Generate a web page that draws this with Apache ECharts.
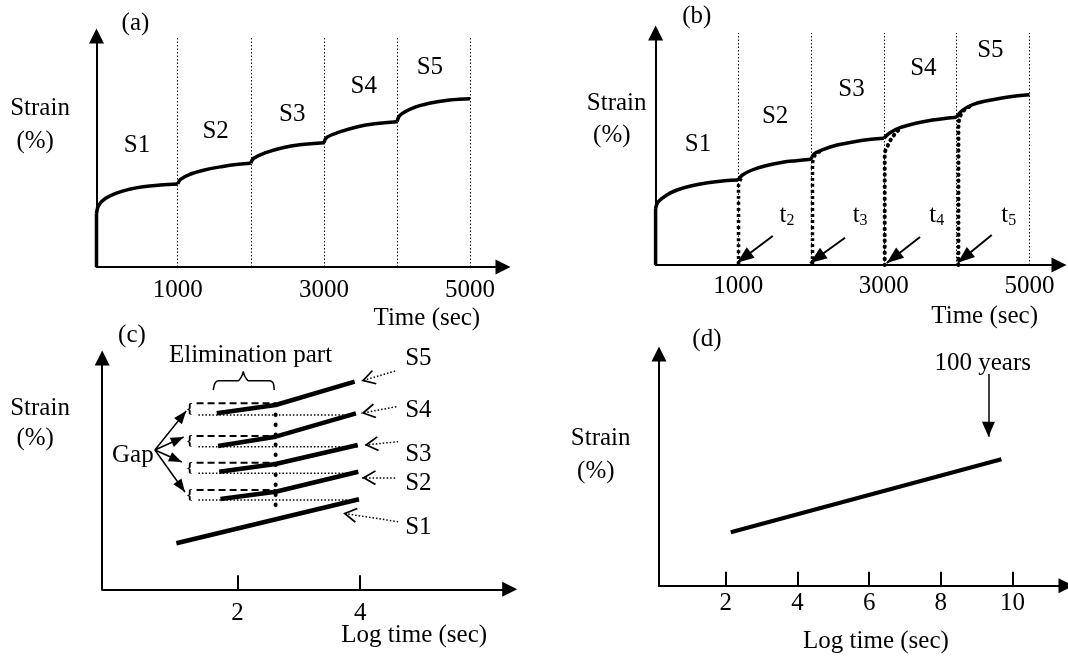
<!DOCTYPE html>
<html><head><meta charset="utf-8">
<script src="https://cdn.jsdelivr.net/npm/echarts@6/dist/echarts.min.js"></script>
<style>html,body{margin:0;padding:0;background:#fff}#c{width:1068px;height:657px}</style>
</head><body><div id="c"></div>
<script>
// ===== Panel (a): stepwise creep curve, Time (sec) vs Strain =====
const aStageTimes = [1000, 2000, 3000, 4000, 5000];
const aTickLabels = [1000, 3000, 5000];
const aJump = [[-111, 0], [-111, 53.7]];
const aS1 = [[-111,53.7],[-79,62],[14,68.7],[153,73.7],[339,77.7],[525,80.3],[759,82],[1000,83]];
const aS2 = [[1000,83],[1038,87.7],[1178,93],[1365,97],[1598,100.3],[1830,102.7],[2000,103.7]];
const aS3 = [[2000,103.7],[2040,108.7],[2204,114.3],[2436,119.3],[2669,122.3],[3000,124.3]];
const aS4 = [[3000,124.3],[3042,129.7],[3228,135.3],[3461,140.3],[3695,143.3],[4000,145.3]];
const aS5 = [[4000,145.3],[4044,152],[4207,158.7],[4440,163.7],[4720,167],[5000,168.3]];
const aStageLabels = [[442,121.3,'S1'],[1518,135.3,'S2'],[2566,152.3,'S3'],[3546,180.3,'S4'],[4449,199.3,'S5']];

// ===== Panel (b): same curve with re-zeroed stages =====
const bStageTimes = [1000, 2000, 3000, 4000, 5000];
const bTickLabels = [1000, 3000, 5000];
const bJump = [[-135, 0], [-135, 56.7]];
const bS1 = [[-135,56.7],[-97,63.3],[19,70],[159,75],[347,79],[581,82.3],[814,84.3],[1000,85]];
const bS2 = [[1000,85],[1058,90],[1190,95],[1376,99.3],[1610,102.7],[1798,104.3],[2000,105.7]];
const bS3 = [[2000,105.7],[2041,111],[2172,115.7],[2358,120],[2593,123.3],[2827,125.7],[3000,126.7]];
const bS4 = [[3000,126.7],[3084,132.3],[3224,137.3],[3435,141.7],[3669,145],[3856,146.7],[4000,147.7]];
const bS5 = [[4000,147.7],[4067,154],[4207,160],[4418,164.3],[4651,167.3],[4839,169.3],[5000,170.3]];
const bR2 = [[1004,0],[1004,79],[1020,84],[1050,87.5]];
const bR3 = [[2020,0],[2020,100],[2035,107],[2070,111],[2130,113.5]];
const bR4 = [[3012,0],[3012,112],[3040,117],[3070,122],[3110,127],[3170,132.5],[3230,137]];
const bR5 = [[4025,0],[4025,140],[4045,148],[4090,154],[4180,158.5]];
const bStageLabels = [[448,121,'S1'],[1507,148.3,'S2'],[2555,175.7,'S3'],[3543,196.7,'S4'],[4464,214.3,'S5']];
const bTLabels = [[1670,50,'2'],[2674,50,'3'],[3727,50,'4'],[4716,50,'5']];
const bTArrows = [[[1474,29],[984,2.3]],[[2467,27.3],[1986,2]],[[3497,28],[3040,2]],[[4482,30],[4015,2.3]]];

// ===== Panel (c): Log time vs Strain, shifted stages =====
const cTicks = [2, 4];
const cS1 = [[1.0,46],[3.98,90]];
const cS2 = [[1.72,90.3],[2.62,97.6],[3.97,117.6]];
const cS3 = [[1.70,117.6],[2.62,125.3],[3.96,144.3]];
const cS4 = [[1.68,143.3],[2.62,152.6],[3.93,176]];
const cS5 = [[1.66,176],[2.62,184.3],[3.91,207.6]];
const cGapTop = [186, 153.3, 126.6, 99.3];
const cGapBottom = [174.3, 142.6, 116, 89.3];
const cDashStartX = 1.33;
const cDotStartX = 1.36;
const cCutX = 2.62;
const cPrevEndX = [3.93, 3.96, 3.97, 3.98];
const cCutLine = [[2.62,84.3],[2.62,192.6]];
const cBrace = [[1.602,199.3],[1.630,206],[1.684,208.6],[2.010,208.6],[2.038,210.3],[2.076,214.3],[2.092,217.6],[2.108,214.3],[2.146,210.3],[2.173,208.6],[2.527,208.6],[2.581,206],[2.597,199.3]];
const cGapOrigin = [0.65, 139.3];
const cGapTips = [[1.16,178.3],[1.12,152.3],[1.09,127.3],[1.14,97.3]];
const cPointers = [[[4.57,218.3],[4.02,208.3]],[[4.59,182.6],[4.02,176]],[[4.62,147.6],[4.07,144.3]],[[4.57,111.6],[4.03,111.6]],[[4.62,67.6],[3.72,76]]];
const cStageLabels = [[4.95,231,'S5'],[4.95,179.3,'S4'],[4.95,135.3,'S3'],[4.95,106,'S2'],[4.95,62,'S1']];
const cSmallBraces = [[1.22,180.2,'{'],[1.22,148,'{'],[1.22,121.3,'{'],[1.22,94.3,'{']];
const cTexts = [[0.29,134.3,'Gap'],[2.21,233.8,'Elimination part']];

// ===== Panel (d): extrapolated line to 100 years =====
const dTicks = [2, 4, 6, 8, 10];
const dLine = [[2.14,53.4],[9.69,126.5]];
const dArrow = [[9.33,211.7],[9.33,149]];
const dTexts = [[9.17,222.4,'100 years']];

// ---------------- option building ----------------
const FONT = '"Liberation Serif","Times New Roman",serif';
const BLACK = '#000';
const TXT = {fontFamily: FONT, fontSize: 25, color: BLACK};

function xAxis(gi, min, max, name, nameGap, namePadTop, labelVals, tickVals, margin) {
  return {
    type: 'value', gridIndex: gi, min: min, max: max,
    axisLine: {onZero: false, lineStyle: {color: BLACK, width: 2}, symbol: ['none', 'triangle'], symbolSize: [15, 15]},
    axisTick: tickVals ? {show: true, inside: true, length: 14, customValues: tickVals, lineStyle: {color: BLACK, width: 2}} : {show: false},
    axisLabel: Object.assign({customValues: labelVals, margin: margin, formatter: v => String(v)}, TXT),
    splitLine: {show: false},
    name: name, nameLocation: 'end', nameGap: nameGap, nameMoveOverlap: false,
    nameTextStyle: Object.assign({align: 'right', verticalAlign: 'top', padding: [namePadTop, 0, 0, 0]}, TXT)
  };
}
function yAxis(gi, max, nameGap, lineH, spacer) {
  return {
    type: 'value', gridIndex: gi, min: 0, max: max,
    axisLine: {onZero: false, lineStyle: {color: BLACK, width: 2}, symbol: ['none', 'triangle'], symbolSize: [15, 15]},
    axisTick: {show: false}, axisLabel: {show: false}, splitLine: {show: false},
    name: '{n|Strain}\n{n| (%)}\n{g| }', nameLocation: 'middle', nameRotate: 0, nameGap: nameGap, nameMoveOverlap: false,
    nameTextStyle: Object.assign({align: 'left', verticalAlign: 'middle',
      rich: {n: Object.assign({lineHeight: lineH, align: 'left'}, TXT), g: {fontSize: 1, lineHeight: spacer}}}, TXT)
  };
}
function line(gi, data, width, type, smooth, extra) {
  return Object.assign({
    type: 'line', xAxisIndex: gi, yAxisIndex: gi, data: data, color: BLACK,
    symbol: 'none', showSymbol: false, silent: true, smooth: smooth || false,
    lineStyle: {color: BLACK, width: width, type: type || 'solid'}, z: 3
  }, extra || {});
}
function labels(gi, data, fontSize, extraLabel) {
  return {
    type: 'scatter', xAxisIndex: gi, yAxisIndex: gi, data: data, symbolSize: 1, clip: false,
    itemStyle: {color: 'rgba(0,0,0,0)', opacity: 1}, silent: true, z: 10,
    label: Object.assign({show: true, position: 'inside', formatter: p => p.data[2], opacity: 1,
      textBorderWidth: 0, fontFamily: FONT, fontSize: fontSize, color: BLACK}, extraLabel || {})
  };
}
function vLines(times) {
  return {silent: true, symbol: 'none', label: {show: false}, animation: false,
    lineStyle: {color: BLACK, width: 1, type: [1.5, 2]},
    data: times.map(t => ({xAxis: t}))};
}
function arrows(pairs, width, lineType, headSym, headW, headH) {
  return {silent: true, symbol: ['none', headSym], label: {show: false}, animation: false,
    lineStyle: {color: BLACK, width: width, type: lineType},
    itemStyle: {color: BLACK},
    data: pairs.map(p => [
      {coord: p[0], symbol: 'none'},
      {coord: p[1], symbol: headSym, symbolSize: [headW, headH], symbolOffset: [0, headH / 2]}
    ])};
}
const CHEVRON = 'path://M10,0 L20,16 L18.2,17.3 L10,4.3 L1.8,17.3 L0,16 Z';

const series = [];
// (a)
series.push(line(0, aJump, 3.5, 'solid', false, {markLine: vLines(aStageTimes)}));
[aS1, aS2, aS3, aS4, aS5].forEach(d => series.push(line(0, d, 3.5, 'solid', 0.4)));
series.push(labels(0, aStageLabels, 25));
// (b)
series.push(line(1, bJump, 3.5, 'solid', false, {markLine: vLines(bStageTimes)}));
[bS1, bS2, bS3, bS4, bS5].forEach((d, i) => series.push(line(1, d, 3.5, 'solid', 0.4,
  i === 0 ? {markLine: arrows(bTArrows, 2, 'solid', 'triangle', 13, 17)} : {})));
[bR2, bR3].forEach(d => series.push(line(1, d, 3.5, [3, 3], 0.3, {z: 4})));
[bR4, bR5].forEach(d => series.push(line(1, d, 4, [0.5, 5.5], 0.3, {z: 4, lineStyle: {color: BLACK, width: 4, type: [0.5, 5.5], cap: 'round'}})));
series.push(labels(1, bStageLabels, 25));
series.push(labels(1, bTLabels, 25, {
  formatter: p => '{t|t}{s|' + p.data[2] + '}',
  rich: {t: {fontFamily: FONT, fontSize: 25, color: BLACK, lineHeight: 28},
         s: {fontFamily: FONT, fontSize: 16, color: BLACK, lineHeight: 20, verticalAlign: 'bottom'}}
}));
// (c)
series.push(line(2, cS1, 4.5, 'solid', false, {markLine: arrows(cGapTips.map(t => [cGapOrigin, t]), 1.5, 'solid', 'triangle', 10, 13)}));
[cS2, cS3, cS4, cS5].forEach((d, i) => series.push(line(2, d, 4.5, 'solid', false,
  i === 0 ? {markLine: arrows(cPointers, 1.5, [1.5, 2], CHEVRON, 15, 14)} : {})));
cGapTop.forEach(y => series.push(line(2, [[cDashStartX, y], [cCutX, y]], 2, [7, 4])));
cGapBottom.forEach((y, i) => series.push(line(2, [[cDotStartX, y], [cPrevEndX[i], y]], 1.5, [1.5, 2], false, {z: 2})));
series.push(line(2, cCutLine, 4, [0.5, 9.5], false, {z: 4, lineStyle: {color: BLACK, width: 4, type: [0.5, 9.5], cap: 'round'}}));
series.push(line(2, cBrace, 1.5, 'solid', 0.25));
series.push(labels(2, cStageLabels, 25));
series.push(labels(2, cTexts, 25));
series.push(labels(2, cSmallBraces, 15, {fontWeight: 'bold'}));
// (d)
series.push(line(3, dLine, 4, 'solid', false, {markLine: arrows([dArrow], 1.5, 'solid', 'triangle', 13, 15)}));
series.push(labels(3, dTexts, 25));

const titleStyle = {fontFamily: FONT, fontSize: 25, fontWeight: 'normal', color: BLACK};
const option = {
  animation: false,
  backgroundColor: '#fff',
  title: [
    {text: '(a)', left: 121.6, top: 10.8, padding: 0, textStyle: titleStyle},
    {text: '(b)', left: 682.2, top: 4.2, padding: 0, textStyle: titleStyle},
    {text: '(c)', left: 118.1, top: 322.5, padding: 0, textStyle: titleStyle},
    {text: '(d)', left: 692.3, top: 326.7, padding: 0, textStyle: titleStyle}
  ],
  grid: [
    {left: 96.5, top: 36, width: 406.5, height: 231, containLabel: false, outerBoundsMode: 'none'},
    {left: 655.6, top: 33, width: 403.4, height: 232, containLabel: false, outerBoundsMode: 'none'},
    {left: 102.2, top: 358, width: 407.5, height: 231.3, containLabel: false, outerBoundsMode: 'none'},
    {left: 659, top: 354, width: 407, height: 231.7, containLabel: false, outerBoundsMode: 'none'}
  ],
  xAxis: [
    xAxis(0, -111, 5450, 'Time (sec)', -22.8, 38.8, aTickLabels, null, 11),
    xAxis(1, -135, 5406, 'Time (sec)', -21, 39.2, bTickLabels, null, 9),
    xAxis(2, -0.21, 6.44, 'Log time (sec)', -22.6, 33.2, cTicks, cTicks, 11.5),
    xAxis(3, 0.137, 11.493, 'Log time (sec)', -117.2, 43.5, dTicks, dTicks, 5)
  ],
  yAxis: [
    yAxis(0, 231, 86.3, 33.4, 53),
    yAxis(1, 232, 68.8, 31.7, 59.6),
    yAxis(2, 231.3, 92, 30, 100.8),
    yAxis(3, 231.7, 88.2, 33.4, 29.8)
  ],
  series: series
};
const chart = echarts.init(document.getElementById('c'), null, {renderer: 'canvas'});
chart.setOption(option);
</script>
</body></html>
